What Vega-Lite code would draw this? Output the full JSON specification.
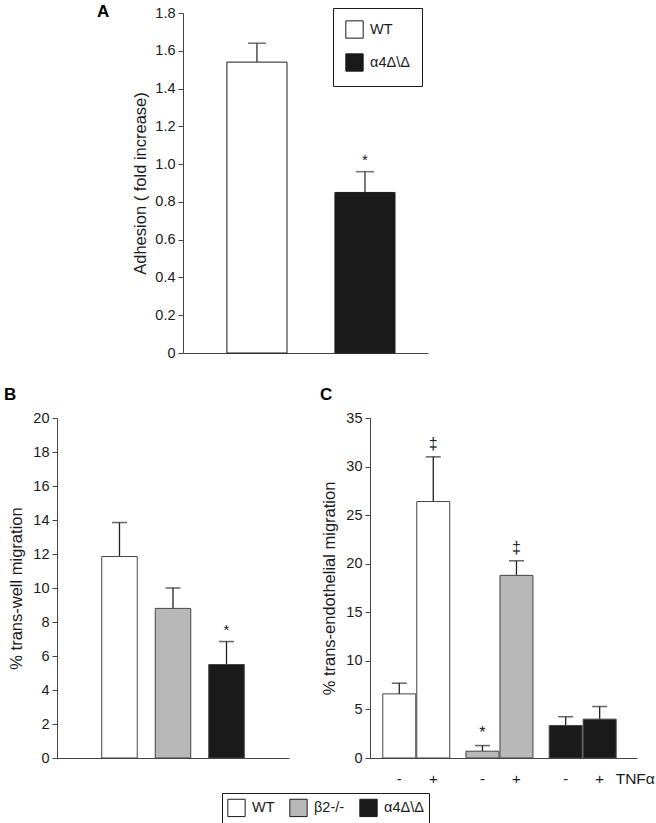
{
  "$schema": "https://vega.github.io/schema/vega-lite/v6.json",
  "padding": {"left": 4, "top": 3, "right": 2, "bottom": 2},
  "background": "white",
  "config": {
    "view": {"stroke": null},
    "font": "Liberation Sans",
    "axis": {"labelFont": "Liberation Sans", "titleFont": "Liberation Sans", "labelFontSize": 14.5, "titleFontSize": 16.5, "labelColor": "#1a1a1a", "titleColor": "#1a1a1a", "domainColor": "#444", "tickColor": "#444", "tickSize": 5, "grid": false, "titleFontWeight": "normal", "labelPadding": 3},
    "legend": {"labelFont": "Liberation Sans", "labelColor": "#1a1a1a"},
    "text": {"font": "Liberation Sans", "color": "#1a1a1a"}
  },
  "vconcat": [
    {
      "hconcat": [
        {"width": 126, "height": 340, "view": {"fill": "white", "stroke": null}, "data": {"values": [{}]}, "mark": {"type": "text"}, "encoding": {"text": {"value": ""}}},
        {
          "width": 245, "height": 340,
          "title": {"text": "A", "anchor": "start", "frame": "group", "dx": -86, "dy": 16, "offset": 0, "fontSize": 17, "fontWeight": "bold", "font": "Liberation Sans", "color": "#000"},
          "data": {"values": [{"g": "WT", "v": 1.54, "u": 1.64, "sig": ""}, {"g": "α4Δ\\Δ", "v": 0.85, "u": 0.96, "sig": "*"}]},
          "encoding": {
            "x": {"field": "g", "type": "nominal", "sort": null, "scale": {"paddingInner": 0.444, "paddingOuter": 0.356, "align": 0.571}, "axis": {"title": null, "labels": false, "ticks": false}},
            "y": {"field": "v", "type": "quantitative", "scale": {"domain": [0, 1.8], "nice": false}, "axis": {"title": "Adhesion ( fold increase)", "values": [0, 0.2, 0.4, 0.6, 0.8, 1, 1.2, 1.4, 1.6, 1.8], "labelExpr": "datum.value == 0 ? '0' : format(datum.value, '.1f')", "titlePadding": 6}}
          },
          "layer": [
            {"mark": {"type": "rule", "color": "#333", "strokeWidth": 1.3}, "encoding": {"y2": {"field": "u"}}},
            {"mark": {"type": "tick", "color": "#333", "thickness": 1.5, "size": 18}, "encoding": {"y": {"field": "u", "type": "quantitative", "scale": {"domain": [0, 1.8], "nice": false}, "title": "Adhesion ( fold increase)"}}},
            {"mark": {"type": "bar", "stroke": "#1a1a1a", "strokeWidth": 1}, "encoding": {"fill": {"field": "g", "type": "nominal", "scale": {"domain": ["WT", "α4Δ\\Δ"], "range": ["#ffffff", "#1a1a1a"]}, "legend": {"orient": "none", "legendX": 150, "legendY": -5, "title": null, "symbolType": "square", "symbolSize": 300, "symbolStrokeColor": "#1a1a1a", "symbolStrokeWidth": 1, "labelFontSize": 14.5, "strokeColor": "#1a1a1a", "padding": 12, "rowPadding": 10, "labelOffset": 6}}}},
            {"mark": {"type": "text", "baseline": "bottom", "dy": -4, "fontSize": 15}, "encoding": {"y": {"field": "u", "type": "quantitative", "scale": {"domain": [0, 1.8], "nice": false}, "title": "Adhesion ( fold increase)"}, "text": {"field": "sig"}}}
          ]
        }
      ],
      "spacing": 0,
      "bounds": "flush",
      "resolve": {"scale": {"fill": "independent"}, "legend": {"fill": "independent"}}
    },
    {
      "hconcat": [
        {
          "width": 232, "height": 340,
          "title": {"text": "B", "anchor": "start", "frame": "group", "dx": -53, "dy": -6, "offset": 0, "fontSize": 17, "fontWeight": "bold", "font": "Liberation Sans", "color": "#000"},
          "data": {"values": [{"g": "WT", "v": 11.85, "u": 13.85, "sig": ""}, {"g": "β2-/-", "v": 8.8, "u": 10.0, "sig": ""}, {"g": "α4Δ\\Δ", "v": 5.5, "u": 6.85, "sig": "*"}]},
          "encoding": {
            "x": {"field": "g", "type": "nominal", "sort": null, "scale": {"paddingInner": 0.336, "paddingOuter": 0.836}, "axis": {"title": null, "labels": false, "ticks": false}},
            "y": {"field": "v", "type": "quantitative", "scale": {"domain": [0, 20], "nice": false}, "axis": {"title": "% trans-well migration", "values": [0, 2, 4, 6, 8, 10, 12, 14, 16, 18, 20], "titlePadding": 8}}
          },
          "layer": [
            {"mark": {"type": "rule", "color": "#222", "strokeWidth": 1.3}, "encoding": {"y2": {"field": "u"}}},
            {"mark": {"type": "tick", "color": "#222", "thickness": 1.5, "size": 15}, "encoding": {"y": {"field": "u", "type": "quantitative", "scale": {"domain": [0, 20], "nice": false}, "title": "% trans-well migration"}}},
            {"mark": {"type": "bar", "stroke": "#444", "strokeWidth": 1}, "encoding": {"fill": {"field": "g", "type": "nominal", "scale": {"domain": ["WT", "β2-/-", "α4Δ\\Δ"], "range": ["#ffffff", "#b8b8b8", "#1a1a1a"]}, "legend": {"orient": "none", "legendX": 165, "legendY": 375, "direction": "horizontal", "title": null, "symbolType": "square", "symbolSize": 300, "symbolStrokeColor": "#1a1a1a", "symbolStrokeWidth": 1, "labelFontSize": 14.5, "strokeColor": "#1a1a1a", "padding": 5, "columnPadding": 12, "labelOffset": 6}}}},
            {"mark": {"type": "text", "baseline": "bottom", "dy": -4, "fontSize": 15}, "encoding": {"y": {"field": "u", "type": "quantitative", "scale": {"domain": [0, 20], "nice": false}, "title": "% trans-well migration"}, "text": {"field": "sig"}}}
          ]
        },
        {
          "width": 267, "height": 340,
          "title": {"text": "C", "anchor": "start", "frame": "group", "dx": -50, "dy": -6, "offset": 0, "fontSize": 17, "fontWeight": "bold", "font": "Liberation Sans", "color": "#000"},
          "layer": [
            {
              "data": {"values": [
                {"g": "WT", "t": "-", "v": 6.6, "u": 7.7, "sig": ""},
                {"g": "WT", "t": "+", "v": 26.4, "u": 31.0, "sig": "‡"},
                {"g": "β2-/-", "t": "-", "v": 0.7, "u": 1.28, "sig": "*"},
                {"g": "β2-/-", "t": "+", "v": 18.8, "u": 20.3, "sig": "‡"},
                {"g": "α4Δ\\Δ", "t": "-", "v": 3.35, "u": 4.25, "sig": ""},
                {"g": "α4Δ\\Δ", "t": "+", "v": 4.0, "u": 5.3, "sig": ""}
              ]},
              "encoding": {
                "x": {"field": "g", "type": "nominal", "sort": ["WT", "β2-/-", "α4Δ\\Δ"], "scale": {"paddingInner": 0.195, "paddingOuter": 0.202, "align": 0.38}, "axis": {"title": null, "labels": false, "ticks": false}},
                "xOffset": {"field": "t", "type": "nominal", "sort": ["-", "+"], "scale": {"paddingInner": 0.03}},
                "y": {"field": "v", "type": "quantitative", "scale": {"domain": [0, 35], "nice": false}, "axis": {"title": "% trans-endothelial migration", "values": [0, 5, 10, 15, 20, 25, 30, 35], "titlePadding": 8}}
              },
              "layer": [
                {"mark": {"type": "rule", "color": "#222", "strokeWidth": 1.3}, "encoding": {"y2": {"field": "u"}}},
                {"mark": {"type": "tick", "color": "#222", "thickness": 1.5, "size": 15}, "encoding": {"y": {"field": "u", "type": "quantitative", "scale": {"domain": [0, 35], "nice": false}, "title": "% trans-endothelial migration"}}},
                {"mark": {"type": "bar", "stroke": "#444", "strokeWidth": 1}, "encoding": {"fill": {"field": "g", "type": "nominal", "scale": {"domain": ["WT", "β2-/-", "α4Δ\\Δ"], "range": ["#ffffff", "#b8b8b8", "#1a1a1a"]}, "legend": null}}},
                {"mark": {"type": "text", "baseline": "bottom", "dy": -5, "fontSize": 16}, "encoding": {"y": {"field": "u", "type": "quantitative", "scale": {"domain": [0, 35], "nice": false}, "title": "% trans-endothelial migration"}, "text": {"field": "sig"}}},
                {"mark": {"type": "text", "baseline": "middle", "dy": 21, "fontSize": 15}, "encoding": {"y": {"datum": 0, "type": "quantitative", "scale": {"domain": [0, 35], "nice": false}, "title": "% trans-endothelial migration"}, "text": {"field": "t"}}}
              ]
            },
            {
              "data": {"values": [{"g": "α4Δ\\Δ", "t": "+", "lab": "TNFα"}]},
              "mark": {"type": "text", "align": "left", "baseline": "middle", "dx": 16, "dy": 21, "fontSize": 15.5},
              "encoding": {
                "x": {"field": "g", "type": "nominal", "sort": ["WT", "β2-/-", "α4Δ\\Δ"]},
                "xOffset": {"field": "t", "type": "nominal", "sort": ["-", "+"]},
                "y": {"datum": 0, "type": "quantitative", "scale": {"domain": [0, 35], "nice": false}, "title": "% trans-endothelial migration"},
                "text": {"field": "lab"}
              }
            }
          ]
        }
      ],
      "spacing": 81,
      "bounds": "flush",
      "resolve": {"scale": {"fill": "independent"}, "legend": {"fill": "independent"}}
    }
  ],
  "spacing": 26,
  "resolve": {"scale": {"fill": "independent"}, "legend": {"fill": "independent"}}
}
